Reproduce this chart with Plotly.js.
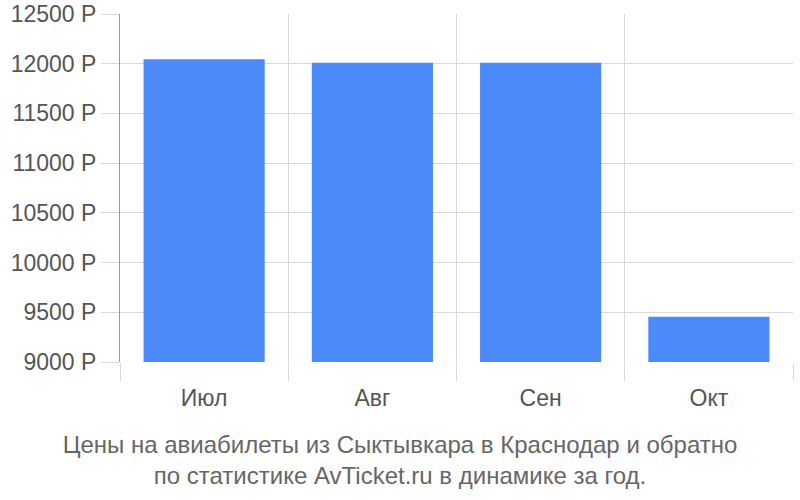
<!DOCTYPE html>
<html>
<head>
<meta charset="utf-8">
<script src="https://cdn.plot.ly/plotly-3.0.1.min.js"></script>
<style>
  html, body { margin: 0; padding: 0; background: #fff; }
  #chart { width: 800px; height: 500px; }
</style>
</head>
<body>
<div id="chart"></div>
<script>
  var MONTHS = ["Июл", "Авг", "Сен", "Окт"];
  var PRICES = [12045, 12010, 12010, 9455];
  var Y_TICKS = [9000, 9500, 10000, 10500, 11000, 11500, 12000, 12500];
  var Y_LABELS = Y_TICKS.map(function (v) { return v + " Р"; });
  var TITLE_LINES = [
    "Цены на авиабилеты из Сыктывкара в Краснодар и обратно",
    "по статистике AvTicket.ru в динамике за год."
  ];

  var trace = {
    x: MONTHS,
    y: PRICES,
    type: "bar",
    marker: { color: "#4c89f9" },
    hoverinfo: "x+y"
  };

  var layout = {
    width: 800,
    height: 500,
    margin: { l: 120, r: 7, t: 14, b: 138 },
    paper_bgcolor: "#fff",
    plot_bgcolor: "#fff",
    bargap: 0.28,
    showlegend: false,
    font: { family: "Liberation Sans, Arial, sans-serif", color: "#555" },
    title: {
      text: TITLE_LINES.join("<br>"),
      font: { size: 24, color: "#666", family: "Liberation Sans, Arial, sans-serif" },
      x: 0.5,
      xanchor: "center",
      xref: "container",
      yref: "container",
      y: 0.094,
      yanchor: "middle"
    },
    xaxis: {
      type: "category",
      tickson: "boundaries",
      ticks: "outside",
      ticklen: 18,
      tickcolor: "#d9d9d9",
      tickwidth: 1,
      ticklabelstandoff: 20,
      showgrid: true,
      gridcolor: "#d9d9d9",
      showline: false,
      zeroline: false,
      tickfont: { size: 23, color: "#555" }
    },
    yaxis: {
      range: [9000, 12500],
      tickmode: "array",
      tickvals: Y_TICKS,
      ticktext: Y_LABELS,
      ticks: "outside",
      ticklen: 18,
      tickcolor: "#d9d9d9",
      showgrid: true,
      gridcolor: "#d9d9d9",
      showline: true,
      linecolor: "#999",
      linewidth: 1,
      zeroline: false,
      tickfont: { size: 23, color: "#555" }
    }
  };

  Plotly.newPlot("chart", [trace], layout, { displayModeBar: false, staticPlot: true });
</script>
</body>
</html>
